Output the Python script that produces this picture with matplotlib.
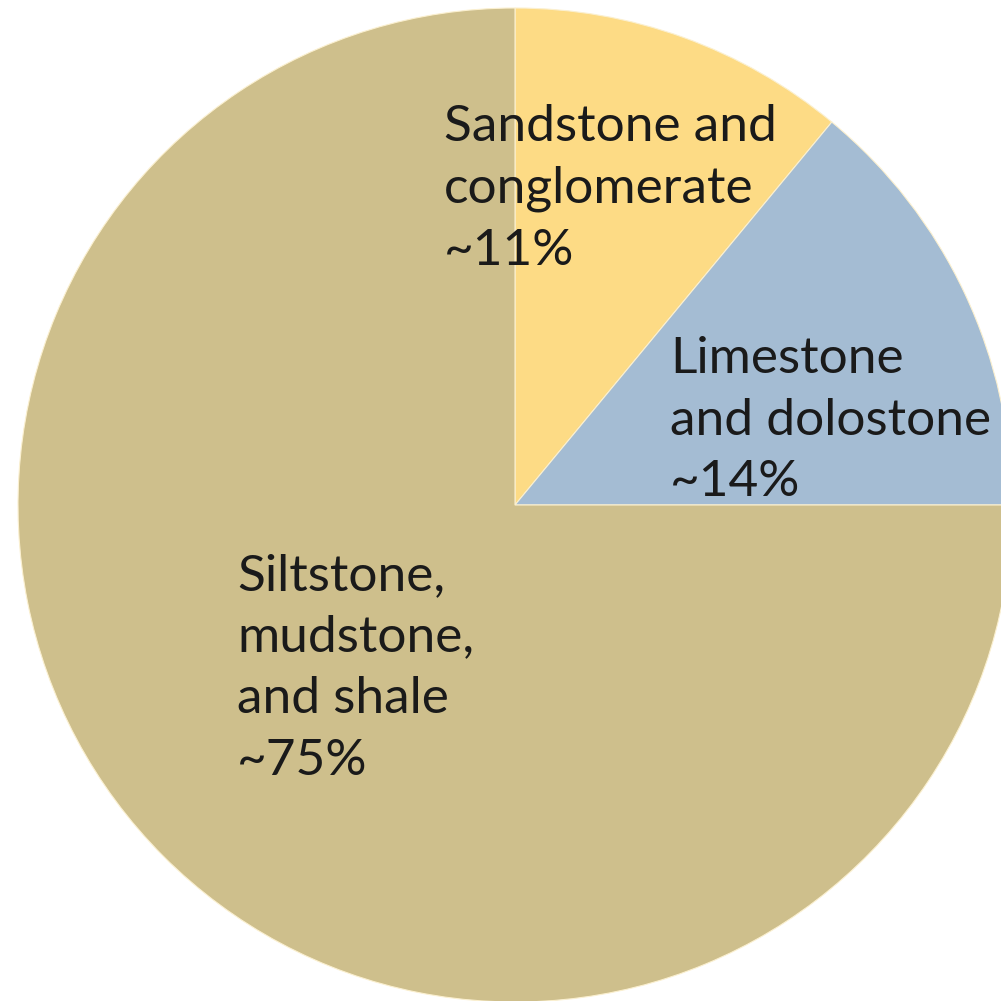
import matplotlib.pyplot as plt

# slices, clockwise from 12 o'clock
labels = ["Sandstone and\nconglomerate\n~11%",
          "Limestone\nand dolostone\n~14%",
          "Siltstone,\nmudstone,\nand shale\n~75%"]
shares = [11, 14, 75]
colors = ["#FDDB85", "#A4BCD3", "#CEBF8C"]

# label anchors (pixel coords, top-left of text block)
label_pos = [(444, 104), (670, 336), (237, 553)]

W = H = 1001
fig = plt.figure(figsize=(W / 100, H / 100), dpi=100)
ax = fig.add_axes([0, 0, 1, 1])

ax.pie(shares, colors=colors, startangle=90, counterclock=False,
       center=(515, H - 505), radius=497,
       wedgeprops=dict(linewidth=0.8, edgecolor="#FBF0D0"), frame=True)
ax.set_xlim(0, W)
ax.set_ylim(0, H)
ax.set_aspect("equal")
ax.axis("off")

for lab, (x, y) in zip(labels, label_pos):
    ax.text(x, H - y, lab, fontsize=37, family="Lato", color="#1a1a1a",
            ha="left", va="top", linespacing=1.42)

fig.savefig("out.png", dpi=100)
